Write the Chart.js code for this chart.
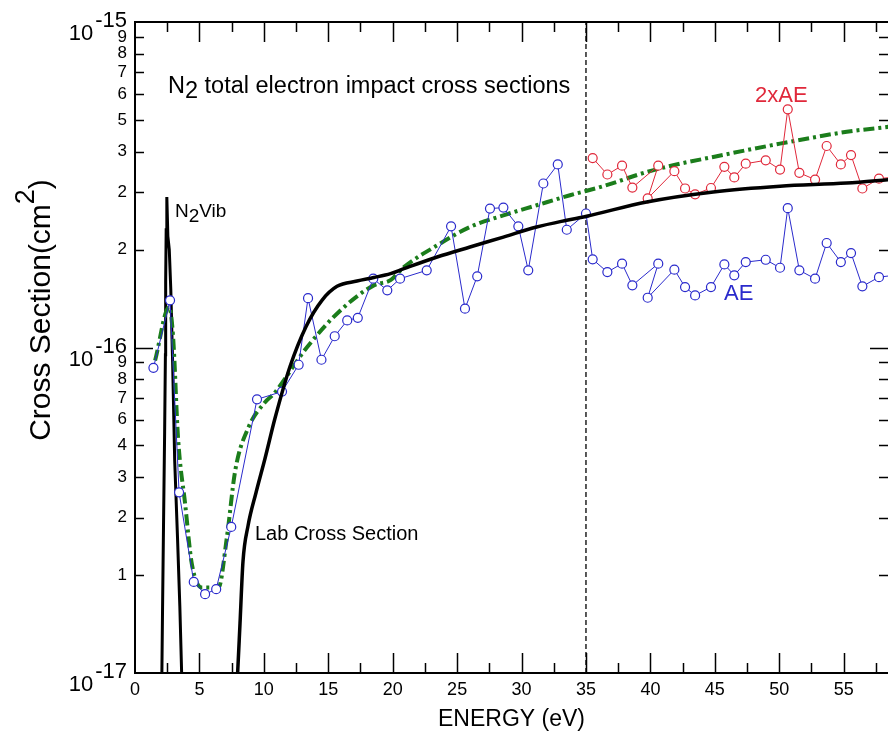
<!DOCTYPE html>
<html>
<head>
<meta charset="utf-8">
<title>N2 total electron impact cross sections</title>
<script src="https://cdn.jsdelivr.net/npm/chart.js@4.4.1/dist/chart.umd.min.js"></script>
<style>
  html, body { margin: 0; padding: 0; background: #fff; overflow: hidden; }
  canvas { display: block; }
</style>
</head>
<body>
<canvas id="chart" width="888" height="735"></canvas>
<script>
// cross sections below are in units of 1e-16 cm^2, energies in eV
const UNIT = 1e-16;

// AE points (blue)
const aeEnergy = [1.43, 2.72, 3.42, 4.56, 5.44, 6.30, 7.47, 9.47, 11.41, 12.70, 13.43, 14.47, 15.50, 16.47, 17.29,
  18.49, 19.58, 20.57, 22.64, 24.53, 25.61, 26.56, 27.55, 28.59, 29.75, 30.52, 31.69, 32.81, 33.51, 35.0,
  35.52, 36.66, 37.80, 38.60, 40.61, 39.79, 41.86, 42.69, 43.47, 44.70, 45.74, 46.51, 47.40, 48.95, 50.06,
  50.66, 51.56, 52.78, 53.68, 54.78, 55.57, 56.45, 57.74, 58.9];
const aeSigma = [0.866, 1.396, 0.359, 0.1905, 0.1746, 0.181, 0.281, 0.693, 0.732, 0.885, 1.418, 0.917, 1.083, 1.211, 1.234,
  1.627, 1.498, 1.627, 1.726, 2.356, 1.316, 1.654, 2.672, 2.69, 2.356, 1.726, 3.19, 3.65, 2.30, 2.58,
  1.866, 1.705, 1.81, 1.552, 1.81, 1.422, 1.734, 1.533, 1.445, 1.533, 1.80, 1.666, 1.83, 1.86, 1.758,
  2.68, 1.726, 1.627, 2.094, 1.83, 1.95, 1.541, 1.645, 1.666];

// 2xAE points (red)
const ae2Energy = [35.52, 36.66, 37.80, 38.60, 40.61, 39.79, 41.86, 42.69, 43.47, 44.70, 45.74, 46.51, 47.40, 48.95,
  50.06, 50.66, 51.56, 52.78, 53.68, 54.78, 55.57, 56.45, 57.74, 58.9];
const ae2Sigma = [3.82, 3.40, 3.62, 3.10, 3.62, 2.87, 3.48, 3.08, 2.955, 3.09, 3.59, 3.33, 3.67, 3.76,
  3.52, 5.39, 3.44, 3.28, 4.16, 3.65, 3.90, 3.08, 3.30, 3.34];

// lab cross section (black)
const labEnergy = [7.90, 7.96, 8.15, 8.38, 8.77, 9.39, 10.09, 10.87, 12.03, 13.27, 14.51, 15.68, 17.23, 18.53,
  19.83, 20.87, 23.45, 26.0, 28.59, 31.17, 33.51, 35.05, 39.71, 44.88, 50.06, 55.24, 58.6];
const labSigma = [0.09, 0.099, 0.142, 0.22, 0.283, 0.358, 0.456, 0.607, 0.874, 1.159, 1.396, 1.541, 1.60, 1.64,
  1.686, 1.746, 1.897, 2.036, 2.184, 2.345, 2.46, 2.53, 2.80, 3.006, 3.13, 3.20, 3.28];

// N2 vibrational spike (black)
const vibEnergy = [2.06, 2.14, 2.22, 2.30, 2.36, 2.38, 2.42, 2.47, 2.55, 2.66, 2.78, 2.92, 3.08, 3.30, 3.48, 3.62, 3.66];
const vibSigma = [0.08, 0.16, 0.30, 0.55, 0.95, 1.6, 2.3, 2.90, 2.2, 2.0, 1.5, 0.9, 0.45, 0.26, 0.16, 0.10, 0.08];

// fitted curve (green dash-dot)
const fitEnergy = [1.56, 2.65, 2.96, 3.34, 3.89, 4.41, 5.19, 6.48, 7.13, 7.78, 8.81, 10.11, 10.76, 13.35, 15.94,
  18.53, 19.83, 20.87, 23.45, 26.0, 28.59, 31.17, 33.76, 36.34, 39.71, 42.30, 44.88, 47.47, 50.06, 52.65, 55.24, 58.6];
const fitSigma = [0.912, 1.33, 1.073, 0.528, 0.331, 0.2165, 0.183, 0.183, 0.261, 0.419, 0.569, 0.68, 0.72, 1.002, 1.30,
  1.552, 1.61, 1.766, 2.06, 2.345, 2.547, 2.735, 2.936, 3.13, 3.46, 3.67, 3.85, 4.04, 4.23, 4.42, 4.60, 4.77];

// boundary marker
const boundaryEnergy = 35;

// axes
const xMin = 0;
const xMax = 58.44;
const xTicks = [0, 5, 10, 15, 20, 25, 30, 35, 40, 45, 50, 55];
const xMinorTicks = [2.5, 7.5, 12.5, 17.5, 22.5, 27.5, 32.5, 37.5, 42.5, 47.5, 52.5, 57.5];
const yMin = 1e-17;
const yMax = 1e-15;
const yTickValues = [1e-17, 2e-17, 3e-17, 4e-17, 5e-17, 6e-17, 7e-17, 8e-17, 9e-17,
  1e-16, 2e-16, 3e-16, 4e-16, 5e-16, 6e-16, 7e-16, 8e-16, 9e-16, 1e-15];
const yTickLabels = ['', '1', '2', '3', '4', '6', '7', '8', '9',
  '', '2', '2', '3', '5', '6', '7', '8', '9', ''];
const yDecades = [1e-17, 1e-16, 1e-15];
const yDecadeExps = ['-17', '-16', '-15'];

const FONT = '"Liberation Sans", Arial, Helvetica, sans-serif';
const BLUE = '#2a2acc';
const RED = '#e0283a';
const GREEN = '#1b7d1b';

function toPoints(xs, ys) {
  return xs.map((x, i) => ({ x: x, y: ys[i] * UNIT }));
}

function drawParts(ctx, parts, x, y) {
  // parts: [text, dy, size]
  let cx = x;
  parts.forEach(p => {
    ctx.font = p[2] + 'px ' + FONT;
    ctx.fillText(p[0], cx, y + p[1]);
    cx += ctx.measureText(p[0]).width;
  });
}

// frame, inward ticks and extra text
const framePlugin = {
  id: 'frame',
  afterDatasetsDraw(chart) {
    const { ctx, chartArea: a, scales: { x, y } } = chart;
    ctx.save();
    ctx.strokeStyle = '#000';
    ctx.lineWidth = 2;
    ctx.beginPath();
    ctx.moveTo(a.left, a.top);
    ctx.lineTo(a.right + 2, a.top);
    ctx.moveTo(a.left, a.top - 1);
    ctx.lineTo(a.left, a.bottom);
    ctx.lineTo(a.right + 2, a.bottom);
    ctx.stroke();

    ctx.lineWidth = 1.5;
    ctx.beginPath();
    const xTick = (v, len) => {
      const px = Math.round(x.getPixelForValue(v)) + 0.5;
      ctx.moveTo(px, a.bottom); ctx.lineTo(px, a.bottom - len);
      ctx.moveTo(px, a.top); ctx.lineTo(px, a.top + len);
    };
    xTicks.forEach(v => { if (v > xMin) xTick(v, 20); });
    xMinorTicks.forEach(v => xTick(v, 10));
    yTickValues.forEach(v => {
      if (v <= yMin || v >= yMax) return;
      const len = yDecades.includes(v) ? 18 : 9;
      const py = Math.round(y.getPixelForValue(v)) + 0.5;
      ctx.moveTo(a.left, py); ctx.lineTo(a.left + len, py);
      ctx.moveTo(a.right, py); ctx.lineTo(a.right - len, py);
    });
    ctx.stroke();
    ctx.restore();
  },
  afterDraw(chart) {
    const { ctx, scales: { y } } = chart;
    ctx.save();
    ctx.fillStyle = '#000';
    ctx.textBaseline = 'alphabetic';

    // decade labels 10^-n
    ctx.font = '22px ' + FONT;
    ctx.textAlign = 'right';
    yDecades.forEach((v, i) => {
      const py = y.getPixelForValue(v);
      const exp = yDecadeExps[i];
      ctx.fillText(exp, 127, py + 5);
      const w = ctx.measureText(exp).width;
      ctx.fillText('10', 127 - w - 2, py + 18);
    });

    // y axis title
    ctx.save();
    ctx.translate(50, 310);
    ctx.rotate(-Math.PI / 2);
    ctx.textAlign = 'left';
    ctx.font = '30px ' + FONT;
    const main = 'Cross Section(cm';
    const wMain = ctx.measureText(main).width;
    const wClose = ctx.measureText(')').width;
    ctx.font = '27px ' + FONT;
    const wSup = ctx.measureText('2').width;
    const total = wMain + wSup + wClose;
    drawParts(ctx, [[main, 0, 30], ['2', -16, 27], [')', 0, 30]], -total / 2, 0);
    ctx.restore();

    // annotations
    ctx.textAlign = 'left';
    drawParts(ctx, [['N', 0, 23.5], ['2', 5, 23.5], [' total electron impact cross sections', 0, 23.5]], 168, 93);
    drawParts(ctx, [['N', 0, 19], ['2', 5, 19], ['Vib', 0, 19]], 175, 217);
    drawParts(ctx, [['Lab Cross Section', 0, 20]], 255, 540);
    ctx.fillStyle = RED;
    drawParts(ctx, [['2xAE', 0, 22]], 755, 102);
    ctx.fillStyle = BLUE;
    drawParts(ctx, [['AE', 0, 22]], 724, 300);
    ctx.restore();
  }
};

const ctx = document.getElementById('chart').getContext('2d');

new Chart(ctx, {
  type: 'scatter',
  data: {
    datasets: [
      {
        label: 'Lab Cross Section',
        data: toPoints(labEnergy, labSigma),
        showLine: true,
        borderColor: '#000',
        borderWidth: 3.5,
        pointRadius: 0,
        cubicInterpolationMode: 'monotone',
        order: 0
      },
      {
        label: 'AE',
        data: toPoints(aeEnergy, aeSigma),
        showLine: true,
        borderColor: BLUE,
        borderWidth: 1,
        pointRadius: 4.5,
        pointBorderWidth: 1.2,
        pointBorderColor: BLUE,
        pointBackgroundColor: '#fff',
        order: 1
      },
      {
        label: '2xAE',
        data: toPoints(ae2Energy, ae2Sigma),
        showLine: true,
        borderColor: RED,
        borderWidth: 1,
        pointRadius: 4.5,
        pointBorderWidth: 1.2,
        pointBorderColor: RED,
        pointBackgroundColor: '#fff',
        order: 2
      },
      {
        label: 'Fit',
        data: toPoints(fitEnergy, fitSigma),
        showLine: true,
        borderColor: GREEN,
        borderWidth: 4,
        borderDash: [11, 4, 3, 4],
        pointRadius: 0,
        cubicInterpolationMode: 'monotone',
        order: 3
      },
      {
        label: 'N2Vib',
        data: toPoints(vibEnergy, vibSigma),
        showLine: true,
        borderColor: '#000',
        borderWidth: 3,
        pointRadius: 0,
        order: 4
      },
      {
        label: 'boundary',
        data: [{ x: boundaryEnergy, y: yMin }, { x: boundaryEnergy, y: yMax }],
        showLine: true,
        borderColor: '#000',
        borderWidth: 1.3,
        borderDash: [5, 3],
        pointRadius: 0,
        order: 5
      }
    ]
  },
  options: {
    responsive: false,
    animation: false,
    events: [],
    layout: { autoPadding: false, padding: { top: 22, right: 0, bottom: 0, left: 0 } },
    plugins: {
      legend: { display: false },
      tooltip: { enabled: false }
    },
    scales: {
      x: {
        type: 'linear',
        min: xMin,
        max: xMax,
        grid: { display: false, drawTicks: false },
        border: { display: false },
        afterBuildTicks: s => { s.ticks = xTicks.map(v => ({ value: v })); },
        afterFit: s => { s.height = 62; s.paddingLeft = 0; s.paddingRight = 0; },
        ticks: {
          color: '#000',
          font: { family: FONT, size: 18 },
          padding: 6,
          maxRotation: 0,
          autoSkip: false
        },
        title: {
          display: true,
          text: 'ENERGY (eV)',
          color: '#000',
          font: { family: FONT, size: 23 },
          padding: { top: 0, bottom: 2 }
        }
      },
      y: {
        type: 'logarithmic',
        min: yMin,
        max: yMax,
        grid: { display: false, drawTicks: false },
        border: { display: false },
        afterBuildTicks: s => { s.ticks = yTickValues.map(v => ({ value: v })); },
        afterFit: s => { s.width = 135; s.paddingTop = 0; s.paddingBottom = 0; },
        ticks: {
          color: '#000',
          font: { family: FONT, size: 17 },
          padding: 8,
          autoSkip: false,
          callback: (value, index) => yTickLabels[index]
        }
      }
    }
  },
  plugins: [framePlugin]
});
</script>
</body>
</html>
